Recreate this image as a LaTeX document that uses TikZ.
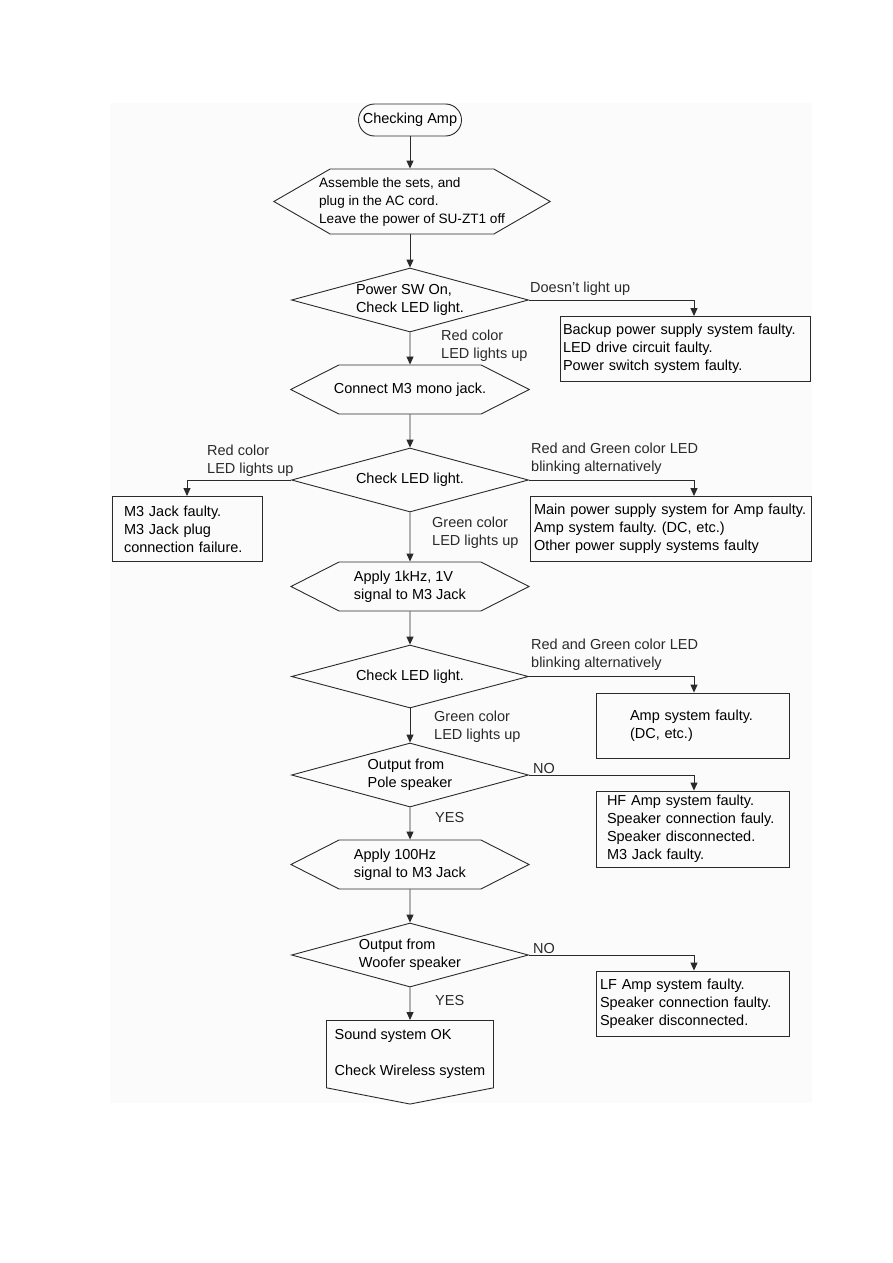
\documentclass[tikz,border=0pt]{standalone}
\usepackage{fontspec}
\setmainfont{Liberation Sans}
\usetikzlibrary{arrows.meta, positioning, shapes.geometric, shapes.symbols}
\definecolor{panelgray}{HTML}{FBFBFB}
\definecolor{linegray}{HTML}{2A2A2A}
\frenchspacing

\begin{document}
\begin{tikzpicture}[
    x=1pt, y=-1pt,
    font=\fontsize{14.5}{18}\selectfont,
    terminal/.style={rectangle, rounded corners=16pt, draw=linegray, line width=0.9pt,
                     minimum width=103pt, minimum height=32pt, inner sep=0pt},
    hexa/.style={signal, signal to=east and west, draw=linegray, line width=0.9pt,
                 minimum width=238pt, minimum height=49pt, signal pointer angle=54,
                 inner sep=0pt, align=left},
    decision/.style={diamond, draw=linegray, line width=0.9pt, aspect=3.7,
                     minimum width=237pt, minimum height=64pt, inner sep=0pt, align=left},
    result/.style={rectangle, draw=linegray, line width=0.9pt, align=left,
                   minimum height=65pt, inner ysep=0pt},
    endbox/.style={signal, signal to=south, signal from=nowhere, draw=linegray,
                   line width=0.9pt, minimum width=167pt, minimum height=82pt,
                   signal pointer angle=158, inner sep=0pt, align=left},
    lbl/.style={anchor=west, align=left, inner sep=0pt, text=linegray},
    arrow/.style={-{Triangle[length=8pt, width=7pt]}, line width=0.9pt, draw=linegray}
]
    \useasboundingbox (0,0) rectangle (893,1263);
    \fill[panelgray] (110,103) rectangle (812,1103);

    % main column
    \node[terminal] (start) at (410,120) {Checking Amp};
    \node[hexa, minimum width=274pt, minimum height=65pt, signal pointer angle=60,
          inner xsep=-11pt, font=\fontsize{13.6}{18}\selectfont] (assemble) at (412,201.5)
        {Assemble the sets, and\\plug in the AC cord.\\Leave the power of SU-ZT1 off};
    \node[decision] (power) at (410,300) {Power SW On,\\Check LED light.};
    \node[hexa, inner xsep=-5pt] (connect) at (410,389.5) {Connect M3 mono jack.};
    \node[decision] (ledA) at (410,480) {Check LED light.};
    \node[hexa] (applyk) at (410,586.5) {Apply 1kHz, 1V\\signal to M3 Jack};
    \node[decision, minimum height=63pt] (ledB) at (410,676.5) {Check LED light.};
    \node[decision] (pole) at (410,775) {Output from\\Pole speaker};
    \node[hexa] (applyh) at (410,864.5) {Apply 100Hz\\signal to M3 Jack};
    \node[decision] (woofer) at (410,955) {Output from\\Woofer speaker};
    \node[endbox, anchor=north] (soundok) at (410,1020)
        {Sound system OK\\[18pt]Check Wireless system};

    % fault boxes
    \node[result, minimum width=250pt, text width=244pt, inner xsep=3pt] (backup) at (685,349)
        {Backup power supply system faulty.\\LED drive circuit faulty.\\Power switch system faulty.};
    \node[result, minimum width=150pt, text width=126pt, inner xsep=12pt] (jackfault) at (187,529)
        {M3 Jack faulty.\\M3 Jack plug\\connection failure.};
    \node[result, minimum width=281pt, text width=273pt, inner xsep=4pt] (mainpsu) at (670.5,529)
        {Main power supply system for Amp faulty.\\Amp system faulty. (DC, etc.)\\Other power supply systems faulty};
    \node[result, minimum width=193pt, text width=125pt, inner xsep=34pt] (ampfault) at (692.5,725.5)
        {Amp system faulty.\\(DC, etc.)};
    \node[result, minimum width=193pt, minimum height=76pt, text width=171pt, inner xsep=11pt] (hffault) at (692.5,829)
        {HF Amp system faulty.\\Speaker connection fauly.\\Speaker disconnected.\\M3 Jack faulty.};
    \node[result, minimum width=193pt, text width=185pt, inner xsep=4pt] (lffault) at (692.5,1003.5)
        {LF Amp system faulty.\\Speaker connection faulty.\\Speaker disconnected.};

    % branch labels
    \node[lbl] (nolight) at (530,289) {Doesn’t light up};
    \node[lbl] (redA) at (441,346) {Red color\\LED lights up};
    \node[lbl] (redB) at (207,461) {Red color\\LED lights up};
    \node[lbl] (blinkA) at (531,459) {Red and Green color LED\\blinking alternatively};
    \node[lbl] (greenA) at (432,533) {Green color\\LED lights up};
    \node[lbl] (blinkB) at (531,655) {Red and Green color LED\\blinking alternatively};
    \node[lbl] (greenB) at (434,727) {Green color\\LED lights up};
    \node[lbl] (noA) at (533,768) {NO};
    \node[lbl] (yesA) at (435,817) {YES};
    \node[lbl] (noB) at (533,948) {NO};
    \node[lbl] (yesB) at (435,1000) {YES};

    \coordinate (dropx) at (694,0);

    \draw[arrow] (start) -- (start |- assemble.north);
    \draw[arrow] (start |- assemble.south) -- (power);
    \draw[arrow] (power) -- (connect);
    \draw[arrow] (connect) -- (ledA);
    \draw[arrow] (ledA) -- (applyk);
    \draw[arrow] (applyk) -- (ledB);
    \draw[arrow] (ledB) -- (pole);
    \draw[arrow] (pole) -- (applyh);
    \draw[arrow] (applyh) -- (woofer);
    \draw[arrow] (woofer) -- (soundok);

    \draw[arrow] (power.east) -| (dropx |- backup.north);
    \draw[arrow] (ledA.west) -| (jackfault.north);
    \draw[arrow] (ledA.east) -| (dropx |- mainpsu.north);
    \draw[arrow] (ledB.east) -| (dropx |- ampfault.north);
    \draw[arrow] (pole.east) -| (dropx |- hffault.north);
    \draw[arrow] (woofer.east) -| (dropx |- lffault.north);
\end{tikzpicture}
\end{document}
